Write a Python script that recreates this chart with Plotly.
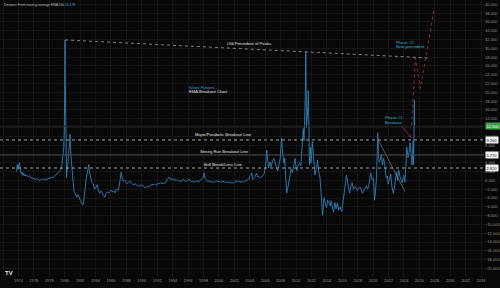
import plotly.graph_objects as go

# ---------------- data ----------------
dates = [
 "1973-10-01","1973-11-01","1973-12-01","1974-01-01","1974-02-15","1974-03-15","1974-04-15","1974-05-15","1974-06-15","1974-07-15",
 "1974-08-15","1974-09-15","1974-10-15","1974-11-15","1974-12-15","1975-02-15","1975-04-15","1975-06-15","1975-08-15","1975-10-15",
 "1975-12-15","1976-02-15","1976-04-15","1976-06-15","1976-08-15","1976-10-15","1976-12-15","1977-02-15","1977-04-15","1977-06-15",
 "1977-08-15","1977-10-15","1977-12-15","1978-02-15","1978-04-15","1978-06-15","1978-08-15","1978-10-15","1978-12-15","1979-02-15",
 "1979-04-15","1979-06-15","1979-08-15","1979-09-15","1979-10-15","1979-11-15","1979-12-15","1980-01-07","1980-01-18","1980-02-01",
 "1980-02-15","1980-03-01","1980-03-27","1980-04-15","1980-05-15","1980-06-15","1980-08-01","1980-09-15","1980-10-15","1980-11-15",
 "1980-12-15","1981-01-15","1981-03-15","1981-05-15","1981-07-15","1981-09-15","1981-11-15","1982-01-15","1982-03-15","1982-05-15",
 "1982-06-15","1982-08-15","1982-10-15","1982-12-15","1983-02-15","1983-03-15","1983-05-15","1983-07-15","1983-09-15","1983-11-15",
 "1984-01-15","1984-03-15","1984-05-15","1984-07-15","1984-09-15","1984-11-15","1985-01-15","1985-03-15","1985-05-15","1985-07-15",
 "1985-09-15","1985-11-15","1986-01-15","1986-03-15","1986-05-15","1986-07-15","1986-09-15","1986-11-15","1987-01-15","1987-03-15",
 "1987-05-01","1987-06-15","1987-08-15","1987-10-15","1987-12-15","1988-02-15","1988-04-15","1988-06-15","1988-08-15","1988-10-15",
 "1988-12-15","1989-02-15","1989-04-15","1989-06-15","1989-08-15","1989-10-15","1989-12-15","1990-02-15","1990-04-15","1990-06-15",
 "1990-08-15","1990-10-15","1990-12-15","1991-02-15","1991-04-15","1991-06-15","1991-08-15","1991-10-15","1991-12-15","1992-02-15",
 "1992-04-15","1992-06-15","1992-08-15","1992-10-15","1992-12-15","1993-02-15","1993-04-15","1993-06-15","1993-08-01","1993-10-15",
 "1993-12-15","1994-02-15","1994-04-15","1994-06-15","1994-08-15","1994-10-15","1994-12-15","1995-02-15","1995-04-15","1995-06-15",
 "1995-08-15","1995-10-15","1995-12-15","1996-02-15","1996-04-15","1996-06-15","1996-08-15","1996-10-15","1996-12-15","1997-02-15",
 "1997-04-15","1997-06-15","1997-08-15","1997-10-15","1997-12-15","1998-01-15","1998-02-05","1998-03-15","1998-05-15","1998-07-15",
 "1998-09-15","1998-11-15","1999-01-15","1999-03-15","1999-05-15","1999-07-15","1999-09-15","1999-11-15","2000-01-15","2000-03-15",
 "2000-05-15","2000-07-15","2000-09-15","2000-11-15","2001-01-15","2001-03-15","2001-05-15","2001-07-15","2001-09-15","2001-11-15",
 "2002-01-15","2002-03-15","2002-05-15","2002-07-15","2002-09-15","2002-11-15","2003-01-15","2003-03-15","2003-05-15","2003-07-15",
 "2003-09-15","2003-11-15","2004-01-15","2004-03-15","2004-04-05","2004-05-15","2004-07-15","2004-09-15","2004-11-15","2005-01-15",
 "2005-03-15","2005-05-15","2005-07-15","2005-09-15","2005-11-15","2005-12-15","2006-01-15","2006-02-15","2006-03-15","2006-06-15",
 "2006-08-15","2006-10-15","2006-12-15","2007-02-15","2007-04-15","2007-06-15","2007-08-15","2007-10-15","2007-12-15","2008-01-15",
 "2008-02-15","2008-04-15","2008-06-15","2008-07-15","2008-08-15","2008-10-15","2008-11-15","2009-01-15","2009-03-15","2009-05-15",
 "2009-07-15","2009-09-15","2009-11-15","2009-12-15","2010-02-15","2010-04-15","2010-06-15","2010-08-15","2010-10-15","2010-11-15",
 "2010-12-15","2011-01-15","2011-02-15","2011-03-15","2011-04-10","2011-05-15","2011-06-15","2011-07-15","2011-08-05","2011-09-01",
 "2011-09-30","2011-11-15","2011-12-15","2012-02-15","2012-03-15","2012-05-15","2012-06-15","2012-08-15","2012-10-15","2012-12-15",
 "2013-02-15","2013-04-15","2013-06-15","2013-08-15","2013-10-15","2013-12-15","2014-02-15","2014-04-15","2014-06-15","2014-07-15",
 "2014-09-15","2014-11-15","2015-01-15","2015-03-15","2015-05-15","2015-07-15","2015-09-15","2015-11-15","2015-12-15","2016-02-15",
 "2016-04-15","2016-06-15","2016-07-15","2016-09-15","2016-11-15","2016-12-15","2017-02-15","2017-04-15","2017-06-15","2017-08-15",
 "2017-10-15","2017-12-15","2018-02-15","2018-04-15","2018-06-15","2018-08-15","2018-10-15","2018-12-15","2019-02-15","2019-04-15",
 "2019-06-15","2019-08-15","2019-09-15","2019-11-15","2020-01-15","2020-03-15","2020-05-15","2020-06-15","2020-07-15","2020-08-10",
 "2020-09-15","2020-10-15","2020-12-15","2021-02-01","2021-03-15","2021-05-15","2021-07-15","2021-09-15","2021-11-15","2021-12-15",
 "2022-02-15","2022-04-15","2022-06-15","2022-08-15","2022-09-15","2022-11-15","2023-01-15","2023-03-15","2023-04-15","2023-05-15",
 "2023-07-15","2023-08-15","2023-10-15","2023-12-15","2024-02-15","2024-04-15","2024-05-15","2024-07-15","2024-09-15","2024-10-15",
 "2024-12-15","2025-01-15","2025-02-15","2025-03-15","2025-04-01","2025-04-20","2025-05-10","2025-05-25",
]
dist = [
 2.0,3.6,2.5,3.1,4.0,2.9,2.2,1.5,1.9,1.2,
 1.6,1.1,1.4,1.0,1.3,0.9,0.8,1.1,0.6,0.5,
 0.4,0.3,0.2,0.5,0.1,0.0,0.3,0.2,0.4,0.1,
 0.2,0.3,0.4,0.5,0.7,0.6,0.9,1.1,1.3,1.6,
 1.9,2.3,3.2,4.5,6.8,7.5,11.4,23.0,31.9,22.0,
 16.5,9.0,0.6,1.8,3.0,4.5,7.0,10.5,6.0,4.0,
 1.5,-0.5,-2.5,-3.0,-3.8,-3.2,-4.1,-4.6,-5.2,-5.6,
 -5.0,-2.0,0.5,2.0,3.6,2.0,0.8,-0.5,-0.8,-2.0,
 -1.6,-1.0,-2.2,-2.9,-2.4,-2.8,-3.2,-3.8,-3.0,-2.6,
 -2.9,-2.5,-2.2,-2.6,-2.4,-2.8,-2.0,-2.3,-1.5,0.2,
 1.9,0.6,-0.2,0.1,-0.5,-0.8,-0.4,-0.1,-0.6,-0.9,
 -1.1,-0.7,-1.0,-1.3,-1.2,-1.4,-0.9,-1.2,-1.5,-1.7,
 -1.3,-1.5,-1.4,-1.2,-0.9,-1.0,-0.8,-1.1,-1.0,-0.6,
 -0.7,-0.5,-0.8,-0.6,-0.7,-0.5,0.3,0.5,0.8,0.1,
 0.3,0.4,0.0,0.2,-0.1,0.1,-0.2,-0.3,0.2,0.1,
 -0.2,-0.1,0.0,0.3,-0.1,-0.3,-0.2,-0.4,-0.3,0.0,
 -0.2,-0.3,0.1,0.3,0.6,1.2,1.7,0.5,0.2,-0.3,
 -0.1,-0.2,-0.4,-0.3,-0.5,-0.2,-0.1,-0.3,-0.2,-0.4,
 -0.3,-0.2,-0.4,-0.5,-0.3,-0.5,-0.4,-0.6,-0.5,-0.6,
 -0.4,-0.3,-0.1,-0.2,-0.3,-0.4,-0.2,-0.4,-0.2,0.0,
 0.2,0.3,0.9,1.2,1.7,0.2,0.6,0.9,1.6,0.8,
 0.9,0.6,0.7,1.1,1.5,2.4,3.0,4.8,6.9,2.8,
 4.2,3.1,4.5,5.0,3.6,3.0,2.2,3.7,4.9,7.2,
 9.6,5.8,3.9,5.1,0.8,-2.9,-2.3,-0.8,0.9,2.6,
 1.8,3.4,5.0,3.6,2.2,3.5,3.9,3.3,6.8,9.5,
 11.8,9.0,13.0,18.5,29.1,12.0,14.0,16.5,20.4,13.5,
 3.5,7.5,4.0,8.8,7.0,2.2,1.2,2.5,4.6,1.8,
 0.5,-3.8,-7.9,-3.9,-5.0,-6.2,-4.5,-5.2,-5.8,-4.6,
 -6.3,-7.2,-5.0,-6.4,-5.1,-6.8,-6.0,-6.9,-7.1,-4.5,
 -1.5,-0.2,1.2,-0.5,-1.8,-2.9,-1.2,-0.5,-2.0,-1.4,
 -1.6,-2.3,-1.8,-1.5,-2.0,-2.9,-2.4,-1.8,-1.2,-2.0,
 -1.1,1.0,1.7,0.2,0.5,-4.5,-1.0,0.8,6.5,10.8,
 5.5,4.2,4.8,6.0,3.5,5.0,3.2,0.5,1.0,-0.8,
 0.2,1.5,-1.5,-2.9,-2.2,0.5,1.8,0.0,2.4,2.0,
 0.6,0.3,-0.5,1.2,-0.4,4.2,7.6,5.2,6.8,8.6,
 4.0,3.5,6.0,9.0,3.5,9.5,18.2,12.3,
]

x_tick_years = list(range(1972, 2036, 2))
y_ticks = list(range(-22, 42, 2))

# reference levels
major_level = 9.2
strong_level = 5.77
bull_level = 2.82
last_value = 12.3

# drawn trend / projection lines
peaks_line_x = ["1980-01-18", "2027-05-20"]
peaks_line_y = [31.9, 27.8]
proj_x = ["2025-01-01", "2025-06-25", "2026-02-15", "2027-12-10"]
proj_y = [12.5, 27.8, 20.9, 39.1]
down_tl_x = ["2020-09-01", "2024-03-01"]
down_tl_y = [9.2, -2.6]

BG = "#080808"
GRID = "#151515"
AX = "#8f8f8f"
BLUE = "#2f80b8"
FONT = "Liberation Sans"

fig = go.Figure()
fig.add_trace(go.Scatter(x=dates, y=dist, mode="lines",
                         line=dict(color=BLUE, width=0.9), hoverinfo="skip"))
fig.add_trace(go.Scatter(x=peaks_line_x, y=peaks_line_y, mode="lines",
                         line=dict(color="#a0a0a0", width=0.8, dash="dot"), hoverinfo="skip"))
fig.add_trace(go.Scatter(x=proj_x, y=proj_y, mode="lines",
                         line=dict(color="#b0323f", width=0.8, dash="dot"), hoverinfo="skip"))
fig.add_trace(go.Scatter(x=down_tl_x, y=down_tl_y, mode="lines",
                         line=dict(color="#7a7a7a", width=0.7), hoverinfo="skip"))

# horizontal level lines
for lvl, col, dash, w in [(major_level, "#b0b0b0", "dot", 0.9), (strong_level, "#4a4a4a", "solid", 1),
                          (bull_level, "#b0b0b0", "dot", 0.9), (last_value, "#262626", "solid", 1)]:
    fig.add_shape(type="line", xref="paper", x0=0, x1=0.972, yref="y", y0=lvl, y1=lvl,
                  line=dict(color=col, width=w, dash=dash))

ann = []
def txt(x, y, s, color="#e0e0e0", size=4, xanchor="left", xref="x", yref="y"):
    ann.append(dict(x=x, y=y, text=s, showarrow=False, xref=xref, yref=yref, xanchor=xanchor,
                    yanchor="middle", font=dict(color=color, size=size, family=FONT)))

txt("2000-10-01", 31.1, "Old Precedent of Peaks", "#e6e6e6", 4.2)
txt("1995-12-01", 21.2, "Silver Futures", "#3aa0e0", 4.2)
txt("1995-12-01", 20.2, "EMA Breakout Chart", "#e6e6e6", 4.2)
txt("1996-09-01", 10.4, "Major/Parabolic Breakout Line", "#e6e6e6", 4.2)
txt("1997-05-01", 6.5, "Strong Run Breakout Line", "#e6e6e6", 4.2)
txt("1997-10-01", 3.6, "Bull Break/Loss Line", "#e6e6e6", 4.2)
txt("2022-10-01", 31.4, "Phase #2", "#3ab0d8", 4.2)
txt("2022-10-01", 30.4, "New precedent", "#3ab0d8", 4.2)
txt("2021-05-01", 14.2, "Phase #1", "#3ab0d8", 4.2)
txt("2021-05-01", 13.2, "Breakout", "#3ab0d8", 4.2)

# arrow from Phase #1 label to breakout point
ann.append(dict(x="2024-12-20", y=9.7, ax="2023-08-01", ay=12.6, axref="x", ayref="y",
                xref="x", yref="y", showarrow=True, arrowhead=2, arrowsize=0.6,
                arrowwidth=0.8, arrowcolor="#b0323f", text=""))

# price-scale value boxes
for lvl, bg, fg, label in [(last_value, "#3f9e4c", "#ffffff", "12.300"),
                           (major_level, "#f0f0f0", "#111111", "9.200"),
                           (strong_level, "#f0f0f0", "#111111", "5.770"),
                           (bull_level, "#f0f0f0", "#111111", "2.820")]:
    ann.append(dict(x=0.974, y=lvl, xref="paper", yref="y", xanchor="left", yanchor="middle",
                    text=label, showarrow=False, bgcolor=bg, borderpad=0.5,
                    font=dict(color=fg, size=4, family=FONT)))

# title
ann.append(dict(x=0.004, y=0.995, xref="paper", yref="paper", xanchor="left", yanchor="top",
                showarrow=False,
                text="Distance From moving average EMA 200 <span style='color:#3aa0e0'>16.178</span>",
                font=dict(color="#bdbdbd", size=3.3, family=FONT)))
# TV logo
ann.append(dict(x=0.006, y=0.035, xref="paper", yref="paper", xanchor="left", yanchor="bottom",
                showarrow=False, text="<b>TV</b>", font=dict(color="#e8e8e8", size=6, family=FONT)))

fig.update_layout(
    width=500, height=288, margin=dict(l=0, r=0, t=0, b=0),
    paper_bgcolor=BG, plot_bgcolor=BG, showlegend=False,
    annotations=ann,
    xaxis=dict(type="date", range=["1971-08-10", "2034-05-25"], domain=[0, 0.972],
               tickvals=[f"{y}-01-01" for y in x_tick_years], ticktext=[str(y) for y in x_tick_years],
               tickfont=dict(color=AX, size=4, family=FONT), showgrid=True, gridcolor=GRID,
               gridwidth=1, zeroline=False, showline=False, ticks=""),
    yaxis=dict(range=[-21.94, 40.98], domain=[11/288, 1], side="right",
               tickvals=y_ticks, tickformat=".3f",
               tickfont=dict(color=AX, size=4, family=FONT), showgrid=True, gridcolor=GRID,
               gridwidth=1, zeroline=False, showline=False, ticks=""),
)

fig.write_html("out.html")
